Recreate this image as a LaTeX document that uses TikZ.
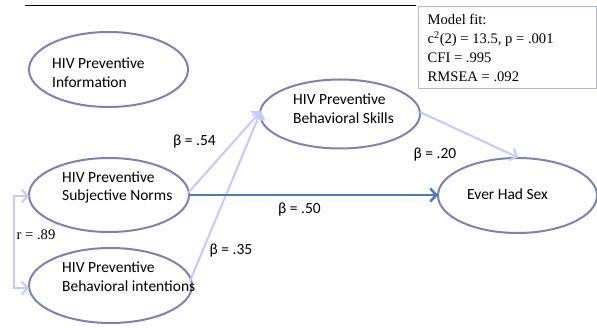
\documentclass[tikz,border=0pt]{standalone}
\usepackage{fontspec}
\setmainfont{Carlito}
\newfontfamily\tnr{Liberation Serif}
\usetikzlibrary{arrows.meta,shapes.geometric}
\definecolor{ellc}{RGB}{128,128,178}
\definecolor{lightarr}{RGB}{200,200,255}
\definecolor{darkarr}{RGB}{74,126,187}
\definecolor{boxc}{RGB}{180,180,220}
\begin{document}
\begin{tikzpicture}[x=1pt,y=-1pt,
  ell/.style={draw=ellc, line width=2pt, ellipse, inner sep=0pt, minimum width=160pt, minimum height=75pt},
  lbl/.style={font=\fontsize{15.5}{18.7}\selectfont, align=left, inner sep=0pt, anchor=west},
  betalbl/.style={font=\fontsize{15.5}{18.7}\selectfont, inner sep=0pt},
  tnrlbl/.style={font=\tnr\fontsize{14.6}{19}\selectfont, inner sep=0pt},
  larrow/.style={draw=lightarr, line width=2pt, -{Straight Barb[length=6pt,width=13pt,line width=2pt]}},
  darrow/.style={draw=darkarr, line width=2.5pt, -{Straight Barb[length=6pt,width=13pt,line width=2.5pt]}},
  rarrow/.style={draw=lightarr, line width=2pt, {Straight Barb[length=6pt,width=13pt,line width=2pt]}-{Straight Barb[length=6pt,width=13pt,line width=2pt]}}
]
\useasboundingbox[fill=white] (0,0) rectangle (597,328);

% top rule
\coordinate (ruleL) at (25,5.5);
\coordinate (ruleR) at (416,5.5);
\draw[line width=1.5pt] (ruleL) -- (ruleR);

% model fit box
\node[draw=boxc, line width=1pt, anchor=north west, minimum width=178pt, minimum height=82pt, inner sep=0pt] (fitbox) at (418,6.5) {};
\node[tnrlbl, anchor=north west, align=left] (fittext) at (427.5,14.5)
  {Model fit:\\c\textsuperscript{2}(2) = 13.5, p = .001\\CFI = .995\\RMSEA = .092};

% ellipses
\node[ell, minimum width=159pt, minimum height=75pt] (info) at (108.5,69.5) {};
\node[ell, minimum width=160pt, minimum height=69pt] (skills) at (340,114) {};
\node[ell, minimum width=160pt, minimum height=74pt] (norms) at (109,195) {};
\node[ell, minimum width=163pt, minimum height=75pt] (intent) at (110.5,285.5) {};
\node[ell, minimum width=159pt, minimum height=75pt] (sex) at (517.5,195.5) {};

% ellipse texts
\node[lbl] (infot) at (52,72.5) {HIV Preventive\\Information};
\node[lbl] (skillst) at (293,108.5) {HIV Preventive\\Behavioral Skills};
\node[lbl] (normst) at (62,187.5) {HIV Preventive\\Subjective Norms};
\node[lbl] (intentt) at (62,276.5) {HIV Preventive\\Behavioral intentions};
\node[lbl] (sext) at (467,194) {Ever Had Sex};

% connector end points
\coordinate (nsStart) at (188,193);
\coordinate (isStart) at (190,281);
\coordinate (skTip) at (261,111);
\coordinate (skOut) at (420,112);
\coordinate (sexTop) at (518,157.5);
\coordinate (nEast) at (189,195);
\coordinate (sexWest) at (438,195);
\coordinate (rTop) at (29,196);
\coordinate (rBot) at (29,288);

\draw[larrow] (nsStart) -- (skTip);
\draw[larrow] (isStart) -- (skTip);
\draw[larrow] (skOut) -- (sexTop);
\draw[darrow] (nEast) -- (sexWest);
\draw[rarrow] (rTop) -- (14,196) -- (14,288) -- (rBot);

% labels
\node[betalbl] (b54) at (194.5,142) {β = .54};
\node[betalbl] (b20) at (435,155) {β = .20};
\node[betalbl] (b50) at (299.5,209.5) {β = .50};
\node[betalbl] (b35) at (231,251) {β = .35};
\node[tnrlbl] (r89) at (36,235) {r = .89};
\end{tikzpicture}
\end{document}
